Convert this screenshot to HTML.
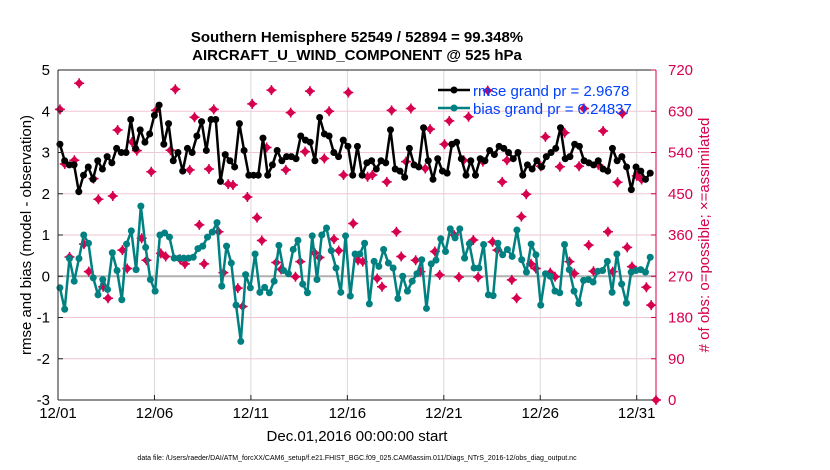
<!DOCTYPE html>
<html><head><meta charset="utf-8"><style>
body{margin:0;background:#fff;}
svg{display:block;font-family:"Liberation Sans",sans-serif;}
</style></head><body>
<svg id="chart" width="830" height="470" xmlns="http://www.w3.org/2000/svg">
<g id="grid"></g>
<g id="marks"></g>
<g id="axes"></g>
<text x="357" y="42" font-size="15" font-weight="bold" text-anchor="middle">Southern Hemisphere 52549 / 52894 = 99.348%</text>
<text x="357" y="60" font-size="15" font-weight="bold" text-anchor="middle">AIRCRAFT_U_WIND_COMPONENT @ 525 hPa</text>
<text x="357" y="441" font-size="15" text-anchor="middle">Dec.01,2016 00:00:00 start</text>
<text transform="translate(31,235) rotate(-90)" font-size="15" text-anchor="middle">rmse and bias (model - observation)</text>
<text transform="translate(709,235) rotate(-90)" font-size="15" fill="#d6004f" text-anchor="middle"># of obs: o=possible; ×=assimilated</text>
<text x="357" y="460" font-size="7" text-anchor="middle">data file: /Users/raeder/DAI/ATM_forcXX/CAM6_setup/f.e21.FHIST_BGC.f09_025.CAM6assim.011/Diags_NTrS_2016-12/obs_diag_output.nc</text>
<g>
<line x1="438" y1="90" x2="470" y2="90" stroke="#000" stroke-width="2.5"/><circle cx="454" cy="90" r="3.5" fill="#000"/>
<text x="473" y="96" font-size="15" fill="#0040ff">rmse grand pr = 2.9678</text>
<line x1="438" y1="108" x2="470" y2="108" stroke="#008080" stroke-width="2.5"/><circle cx="454" cy="108" r="3.5" fill="#008080"/>
<text x="473" y="114" font-size="15" fill="#0040ff">bias grand pr = 0.24837</text>
</g>
</svg>
<script>
const rmse=[3.2,2.8,2.7,2.7,2.05,2.45,2.65,2.35,2.8,2.6,2.9,2.75,3.1,3.0,3.0,3.8,3.1,3.55,3.25,3.45,3.9,4.15,3.2,3.7,2.8,3.0,2.55,3.1,3.0,3.4,3.75,3.05,3.8,3.8,2.3,2.95,2.8,2.65,3.7,3.05,2.45,2.45,2.45,3.35,2.45,2.7,3.05,2.8,2.9,2.9,2.85,3.4,3.3,3.25,2.8,3.85,3.45,3.4,3.0,2.9,3.3,3.15,2.45,3.15,2.45,2.75,2.8,2.6,2.8,2.75,3.55,2.6,2.55,2.4,3.1,2.7,2.65,3.6,2.8,2.35,2.85,2.55,2.5,3.2,3.25,2.85,2.45,2.8,2.45,2.85,2.8,3.05,2.95,3.15,3.1,3.0,2.85,3.0,2.45,2.7,2.6,2.8,2.65,2.9,3.0,3.1,3.6,2.85,2.9,3.2,3.15,2.8,2.75,2.7,2.8,2.6,2.55,3.1,2.8,2.9,2.65,2.1,2.65,2.55,2.35,2.5];
const bias=[-0.28,-0.8,0.43,-0.12,0.43,1.0,0.8,-0.04,-0.45,-0.08,-0.32,0.57,0.14,-0.57,0.78,1.1,0.16,1.7,0.7,-0.08,-0.36,1.0,1.05,0.95,0.44,0.44,0.44,0.44,0.46,0.67,0.73,0.95,1.07,1.3,-0.24,0.73,0.32,-0.7,-1.58,0.04,-0.28,0.54,-0.39,-0.27,-0.4,-0.12,0.75,0.14,0.06,0.65,0.87,-0.19,-0.4,0.98,-0.08,1.0,1.17,0.62,0.2,-0.39,0.98,-0.48,0.54,0.54,0.8,-0.67,0.36,0.24,0.65,0.32,0.2,-0.54,0,-0.36,-0.12,0.06,0.4,-0.78,0.3,0.39,0.91,0.6,1.15,0.93,1.15,0.44,0.79,0.2,0.2,0.77,-0.45,-0.47,0.8,0.52,0.65,0.48,1.12,0.4,0.1,0.78,0.52,-0.7,0.06,0,-0.36,-0.4,0.77,0.16,-0.36,-0.66,-0.1,-0.08,-0.14,0.12,0.14,0.36,-0.39,0.54,-0.19,-0.65,0.1,0.14,0.16,0.1,0.46];
const nobs=[634,515,312,523,691,340,280,483,438,247,222,445,589,327,287,563,544,353,305,498,632,320,313,545,678,307,297,502,617,382,297,504,634,367,278,471,469,244,204,443,646,398,348,551,676,300,285,502,627,269,302,542,674,321,311,527,630,351,326,491,671,385,305,302,487,491,265,247,476,632,367,313,520,636,305,280,505,591,324,273,558,609,360,268,523,618,349,268,520,675,345,327,476,523,262,222,400,449,297,287,510,574,278,269,509,583,302,276,510,636,338,281,513,587,367,280,475,625,333,291,489,481,246,207,0];
const xTickLabels=["12/01","12/06","12/11","12/16","12/21","12/26","12/31"];
const leftTicks=[-3,-2,-1,0,1,2,3,4,5];
const rightTicks=[0,90,180,270,360,450,540,630,720];
const L=58,R=656,T=70,B=400;
const xs=d=>L+(d/31)*(R-L);
const yl=v=>B-(v+3)/8*(B-T);
const yr=v=>B-v/720*(B-T);
const NS="http://www.w3.org/2000/svg";
function mk(tag,attrs,parent){const e=document.createElementNS(NS,tag);for(const k in attrs)e.setAttribute(k,attrs[k]);parent.appendChild(e);return e;}
const grid=document.getElementById('grid'),marks=document.getElementById('marks'),axes=document.getElementById('axes');
rightTicks.forEach(v=>{const g=mk('line',{x1:L,x2:R,y1:yr(v),y2:yr(v),stroke:'#f2c6d6','stroke-width':1},grid);

});
xTickLabels.forEach((t,i)=>{const x=xs(i*5);const g=mk('line',{x1:x,x2:x,y1:T,y2:B,stroke:'#d8d8d8','stroke-width':1},grid);


const tx=mk('text',{x:x,y:418,'font-size':15,'text-anchor':'middle'},axes);tx.textContent=t;


mk('line',{x1:x,x2:x,y1:B,y2:B-5,stroke:'#222'},axes);});
mk('line',{x1:L,x2:R,y1:yl(0),y2:yl(0),stroke:'#b0b0b0','stroke-width':2},grid);
function tpos(i,n,end){return 0.1+i*((end-0.1)/(n-1));}
nobs.forEach((v,i)=>{const x=xs(tpos(i,nobs.length,31)),y=yr(v);const g=mk('g',{},marks);


mk('path',{d:`M${x} ${y-4.5}L${x+4.5} ${y}L${x} ${y+4.5}L${x-4.5} ${y}Z`,fill:'#d6004f'},g);
mk('path',{d:`M${x-5} ${y}H${x+5}M${x} ${y-5}V${y+5}`,stroke:'#d6004f','stroke-width':1.5},g);});
function series(arr,color,name){const n=arr.length;const pts=arr.map((v,i)=>[xs(tpos(i,n,30.7)),yl(v)]);
const p=mk('polyline',{points:pts.map(p=>p.join(',')).join(' '),fill:'none',stroke:color,'stroke-width':2.5,'stroke-linejoin':'round'},marks);


pts.forEach(q=>{const c=mk('circle',{cx:q[0],cy:q[1],r:3.5,fill:color},marks);

});}
series(bias,'#008080','bias');
series(rmse,'#000','rmse');
mk('line',{x1:L,x2:R,y1:T,y2:T,stroke:'#222'},axes);
mk('line',{x1:L,x2:R,y1:B,y2:B,stroke:'#222'},axes);
mk('line',{x1:L,x2:L,y1:T,y2:B,stroke:'#222'},axes);
mk('line',{x1:R,x2:R,y1:T,y2:B,stroke:'#d6004f'},axes);
leftTicks.forEach(v=>{const t=mk('text',{x:L-8,y:yl(v)+5,'font-size':15,'text-anchor':'end'},axes);t.textContent=v;


mk('line',{x1:L,x2:L+5,y1:yl(v),y2:yl(v),stroke:'#222'},axes);});
rightTicks.forEach(v=>{const t=mk('text',{x:R+12,y:yr(v)+5,'font-size':15,fill:'#d6004f'},axes);t.textContent=v;


mk('line',{x1:R,x2:R-5,y1:yr(v),y2:yr(v),stroke:'#d6004f'},axes);});
</script>
</body></html>
